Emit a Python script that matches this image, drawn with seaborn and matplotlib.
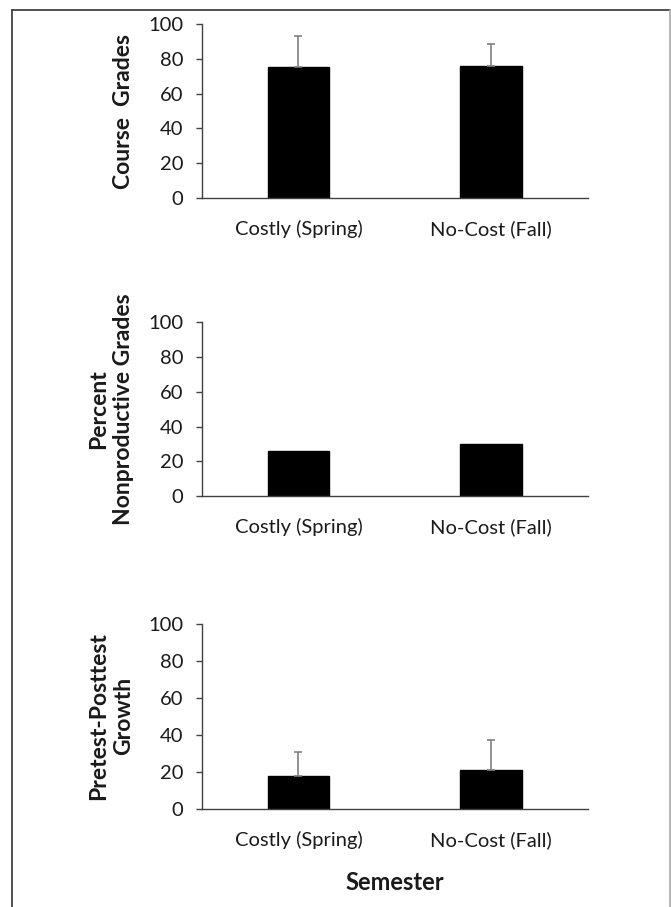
import numpy as np
import seaborn as sns
import matplotlib.pyplot as plt
from matplotlib.lines import Line2D

# Data
semesters = ["Costly (Spring)", "No-Cost (Fall)"]
course_grades = [75.3, 75.7]
course_grades_sd = [17.8, 12.8]
nonproductive_pct = [26.1, 29.8]
growth = [17.5, 20.8]
growth_sd = [13.3, 16.3]

ylabels = ["Course  Grades", "Percent\nNonproductive Grades", "Pretest-Posttest\nGrowth"]
yticks = [0, 20, 40, 60, 80, 100]

sns.set_theme(style="white")
plt.rcParams["font.family"] = ["Lato", "DejaVu Sans"]

fig = plt.figure(figsize=(6.71, 9.07), dpi=100)

# axes positions [left, bottom, width, height] in figure fraction
positions = [
    [0.301, 0.7817, 0.575, 0.1918],
    [0.301, 0.4531, 0.575, 0.1915],
    [0.301, 0.1084, 0.575, 0.2040],
]
panels = [
    (course_grades, course_grades_sd),
    (nonproductive_pct, None),
    (growth, growth_sd),
]

text_col = "#1a1a1a"
for pos, (vals, sd), lab in zip(positions, panels, ylabels):
    ax = fig.add_axes(pos)
    sns.barplot(x=semesters, y=vals, color="black", width=0.32,
                saturation=1, edgecolor="black", ax=ax)
    if sd is not None:
        ax.errorbar(x=np.arange(len(vals)), y=vals,
                    yerr=[np.zeros(len(vals)), sd], fmt="none",
                    ecolor="#808080", elinewidth=1.2, capsize=3, capthick=1.2)
    ax.set_xlim(-0.5, 1.5)
    ax.set_ylim(0, 100)
    ax.set_yticks(yticks)
    sns.despine(ax=ax)
    for s in ["left", "bottom"]:
        ax.spines[s].set_color("#404040")
        ax.spines[s].set_linewidth(1.0)
    ax.tick_params(axis="y", which="major", left=True, length=4.3, width=1,
                   color="#404040", labelsize=14.5, labelcolor=text_col, pad=9)
    ax.tick_params(axis="x", bottom=False, labelsize=14.5, labelcolor=text_col, pad=10)
    ax.set_ylabel(lab, fontsize=16.5, fontweight="bold", color=text_col,
                  labelpad=10, linespacing=1.25)
    last = ax

last.set_xlabel("Semester", fontsize=17, fontweight="bold", color=text_col, labelpad=16)

# outer frame like the source document
fig.add_artist(Line2D([0.018, 0.9985], [0.989, 0.989], transform=fig.transFigure,
                      color="#333333", lw=1.2))
fig.add_artist(Line2D([0.018, 0.018], [0.989, 0.0], transform=fig.transFigure,
                      color="#333333", lw=1.2))
fig.add_artist(Line2D([0.9985, 0.9985], [0.989, 0.0], transform=fig.transFigure,
                      color="#aaaaaa", lw=1.2))

fig.savefig("out.png", dpi=100)
